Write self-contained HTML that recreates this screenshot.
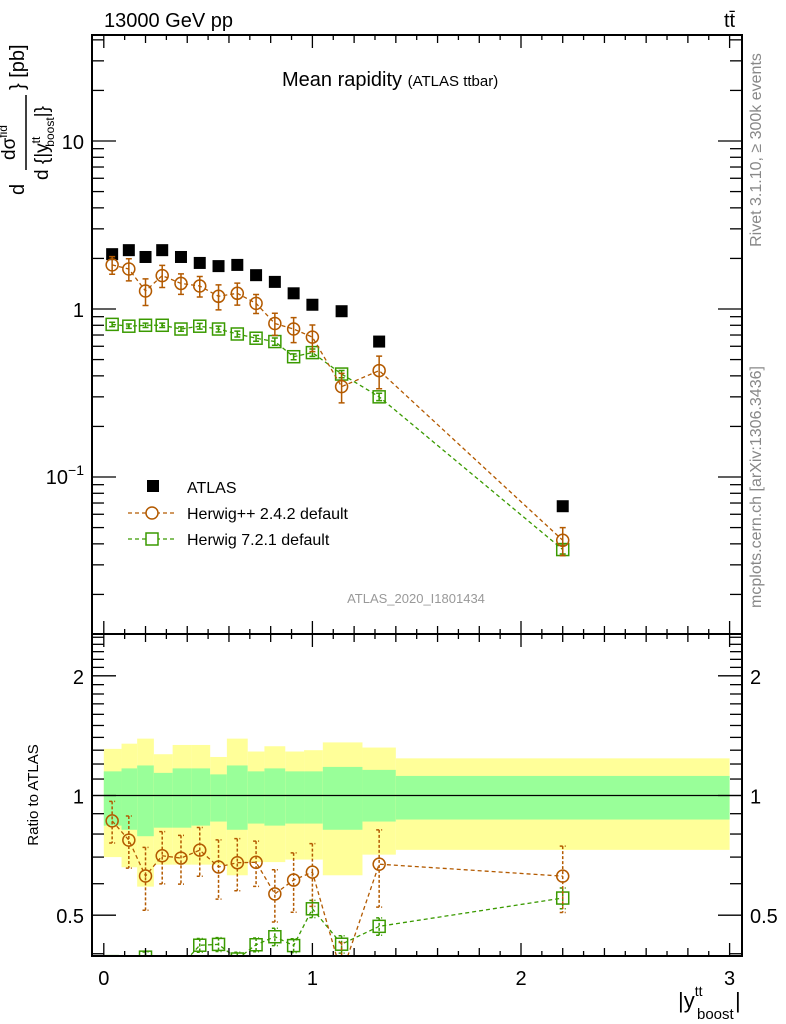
<!DOCTYPE html>
<html><head><meta charset="utf-8"><style>
html,body{margin:0;padding:0;background:#fff;}
svg{display:block;font-family:"Liberation Sans",sans-serif;}
</style></head><body>
<svg id="chart" width="786" height="1024" viewBox="0 0 786 1024">
<defs>
<clipPath id="mainClip"><rect x="92" y="35" width="650" height="599"/></clipPath>
<clipPath id="ratioClip"><rect x="92" y="634" width="650" height="322"/></clipPath>
</defs>
<g id="bands" clip-path="url(#ratioClip)"></g>
<g id="main" clip-path="url(#mainClip)"></g>
<g id="ratio" clip-path="url(#ratioClip)"></g>
<g id="axes"></g>
<rect x="92" y="35" width="650" height="599" fill="none" stroke="#000" stroke-width="2"/>
<rect x="92" y="634" width="650" height="322" fill="none" stroke="#000" stroke-width="2"/>

<text x="104" y="27" font-size="20">13000 GeV pp</text>
<text x="724" y="27" font-size="20">tt̄</text>
<text x="282" y="86" font-size="20">Mean rapidity <tspan font-size="15">(ATLAS ttbar)</tspan></text>
<text x="416" y="603" font-size="13" fill="#999" text-anchor="middle">ATLAS_2020_I1801434</text>
<text transform="translate(761,150) rotate(-90)" font-size="16" fill="#888" text-anchor="middle">Rivet 3.1.10, ≥ 300k events</text>
<text transform="translate(761,487) rotate(-90)" font-size="16" fill="#888" text-anchor="middle">mcplots.cern.ch [arXiv:1306.3436]</text>

<g font-size="20">
<text transform="translate(24,195) rotate(-90)">d</text>
<line x1="26" y1="170" x2="26" y2="95" stroke="#000" stroke-width="1.5"/>
<text transform="translate(15,160) rotate(-90)" font-size="19">dσ<tspan font-size="12" dy="-8">fid</tspan></text>
<text transform="translate(48,180) rotate(-90)" font-size="19">d {|y<tspan font-size="12" dy="-8">tt</tspan><tspan font-size="12" dy="14" dx="-10">boost</tspan><tspan dy="-6">|}</tspan></text>
<text transform="translate(24,90) rotate(-90)">} [pb]</text>
</g>
<text transform="translate(38,795) rotate(-90)" font-size="15" text-anchor="middle">Ratio to ATLAS</text>
<g>
<text x="678" y="1008" font-size="22">|y<tspan font-size="14" dy="-12">tt</tspan></text>
<text x="697" y="1019" font-size="15">boost</text>
<text x="735" y="1008" font-size="22">|</text>
</g>

<g>
<rect x="147" y="480" width="12" height="12" fill="#000"/>
<text x="187" y="493" font-size="16">ATLAS</text>
<line x1="128" y1="513" x2="176" y2="513" stroke="#b35a00" stroke-width="1.3" stroke-dasharray="4,3"/>
<circle cx="152" cy="513" r="6" fill="#fff" stroke="#b35a00" stroke-width="1.5"/>
<text x="187" y="519" font-size="16">Herwig++ 2.4.2 default</text>
<line x1="128" y1="539" x2="176" y2="539" stroke="#3a9a00" stroke-width="1.3" stroke-dasharray="4,3"/>
<rect x="146" y="533" width="12" height="12" fill="#fff" stroke="#3a9a00" stroke-width="1.5"/>
<text x="187" y="545" font-size="16">Herwig 7.2.1 default</text>
</g>
</svg>
<script>
const binEdges=[0,0.085,0.16,0.24,0.33,0.42,0.51,0.59,0.69,0.77,0.87,0.96,1.05,1.24,1.4,3.0];
const xCenters=[0.04,0.12,0.2,0.28,0.37,0.46,0.55,0.64,0.73,0.82,0.91,1.0,1.14,1.32,2.2];
const atlasVals=[2.12,2.24,2.04,2.24,2.04,1.88,1.80,1.83,1.59,1.45,1.24,1.06,0.97,0.64,0.067];
const herwigppVals=[1.83,1.73,1.28,1.58,1.42,1.37,1.19,1.24,1.08,0.82,0.76,0.68,0.345,0.43,0.042];
const herwigppErr=[0.12,0.15,0.18,0.15,0.14,0.14,0.17,0.15,0.13,0.15,0.17,0.18,0.2,0.22,0.19];
const herwig7Vals=[0.81,0.79,0.80,0.80,0.76,0.79,0.76,0.71,0.67,0.64,0.52,0.55,0.41,0.30,0.037];
const herwig7Err=[0.03,0.03,0.03,0.03,0.03,0.04,0.04,0.04,0.04,0.05,0.04,0.05,0.05,0.05,0.06];
const totUp=[0.31,0.35,0.39,0.27,0.34,0.34,0.25,0.39,0.29,0.33,0.29,0.30,0.36,0.32,0.24];
const totDn=[0.30,0.34,0.41,0.33,0.33,0.33,0.33,0.37,0.32,0.32,0.31,0.31,0.37,0.29,0.27];
const statUp=[0.15,0.17,0.19,0.14,0.17,0.17,0.13,0.19,0.15,0.17,0.15,0.15,0.18,0.16,0.12];
const statDn=[0.16,0.18,0.21,0.17,0.17,0.16,0.14,0.18,0.15,0.16,0.15,0.15,0.18,0.14,0.13];
const xTickLabels=["0","1","2","3"];
const ratioTickVals=[0.5,1,2];

const NS="http://www.w3.org/2000/svg";
const X=v=>103.8+v*208.6;
const Y=v=>141-168*(Math.log10(v)-1);
const R=v=>795.5-119.7*Math.log2(v);
function mk(tag,at,parent){const e=document.createElementNS(NS,tag);for(const k in at)e.setAttribute(k,at[k]);parent.appendChild(e);return e;}
const main=document.getElementById('main'),ratio=document.getElementById('ratio'),bands=document.getElementById('bands'),axes=document.getElementById('axes');

for(let i=0;i<xCenters.length;i++){
  const x1=X(binEdges[i]),x2=X(binEdges[i+1]);
  let r=mk('rect',{x:x1,y:R(1+totUp[i]),width:x2-x1,height:R(1-totDn[i])-R(1+totUp[i]),fill:'#ffff99'},bands);
  
  
  let g=mk('rect',{x:x1,y:R(1+statUp[i]),width:x2-x1,height:R(1-statDn[i])-R(1+statUp[i]),fill:'#99ff99'},bands);
  
  
}
let ref=mk('line',{x1:92,x2:742,y1:R(1),y2:R(1),stroke:'#000','stroke-width':1.3},ratio);



function series(parent,yf,vals,errs,color,shape,name,dashErr){
  const pts=xCenters.map((x,i)=>X(x)+','+yf(vals[i])).join(' ');
  const pl=mk('polyline',{points:pts,fill:'none',stroke:color,'stroke-width':1.3,'stroke-dasharray':'4,3'},parent);
  
  
  vals.forEach((v,i)=>{
    const cx=X(xCenters[i]),cy=yf(v),yt=yf(v*(1+errs[i])),yb=yf(v*(1-errs[i]));
    const at={d:`M${cx},${yt}V${yb}M${cx-3},${yt}h6M${cx-3},${yb}h6`,stroke:color,'stroke-width':1.5,fill:'none'};
    if(dashErr)at['stroke-dasharray']='3,2';
    const eb=mk('path',at,parent);
    
    
    let m;
    if(shape==='c') m=mk('circle',{cx:cx,cy:cy,r:6,fill:'none',stroke:color,'stroke-width':1.5},parent);
    else m=mk('rect',{x:cx-6,y:cy-6,width:12,height:12,fill:'none',stroke:color,'stroke-width':1.5},parent);
    
    
  });
}
atlasVals.forEach((v,i)=>{
  const m=mk('rect',{x:X(xCenters[i])-6,y:Y(v)-6,width:12,height:12,fill:'#000'},main);
  
  
});
series(main,Y,herwig7Vals,herwig7Err,'#3a9a00','s','herwig7',false);
series(main,Y,herwigppVals,herwigppErr,'#b35a00','c','herwigpp',false);
series(ratio,R,herwig7Vals.map((v,i)=>v/atlasVals[i]),herwig7Err,'#3a9a00','s','herwig7-ratio',true);
series(ratio,R,herwigppVals.map((v,i)=>v/atlasVals[i]),herwigppErr,'#b35a00','c','herwigpp-ratio',true);

function tick(x1,y1,x2,y2,name){const t=mk('line',{x1,y1,x2,y2,stroke:'#000','stroke-width':1.3},axes);}
function label(x,y,txt,anchor,name,size){const t=mk('text',{x,y,'font-size':size||20,'text-anchor':anchor},axes);t.textContent=txt;return t;}
for(let k=0;k<=30;k++){
  const x=X(k/10);const len=k%10===0?13:(k%2===0?8:5);
  [[35,1],[634,-1],[634,1],[956,-1]].forEach(([y,d])=>tick(x,y,x,y+d*len,'x-tick'));
}
xTickLabels.forEach((l,i)=>label(X(i),985,l,'middle','x-tick-label',20));
for(let d=-2;d<=1;d++)for(let m=1;m<=9;m++){
  const v=m*Math.pow(10,d);const y=Y(v);if(y<36||y>633)continue;
  const len=m===1?24:12;tick(92,y,92+len,y,'main-y-tick');tick(742,y,742-len,y,'main-y-tick');
}
const lab0=mk('text',{x:84,y:484,'font-size':20,'text-anchor':'end'},axes);lab0.innerHTML='10<tspan font-size="14" dy="-9">−1</tspan>';

label(84,Y(1)+8,'1','end','main-y-tick-label');
label(84,Y(10)+8,'10','end','main-y-tick-label');
for(let k=4;k<=25;k++){const v=k/10;const y=R(v);if(y<635||y>955)continue;
  const len=(v===0.5||v===1||v===2)?24:12;tick(92,y,92+len,y,'ratio-y-tick');tick(742,y,742-len,y,'ratio-y-tick');}
ratioTickVals.forEach(v=>{label(84,R(v)+8,String(v),'end','ratio-y-tick-label');label(750,R(v)+8,String(v),'start','ratio-y-tick-label-right');});
</script>
</body></html>
